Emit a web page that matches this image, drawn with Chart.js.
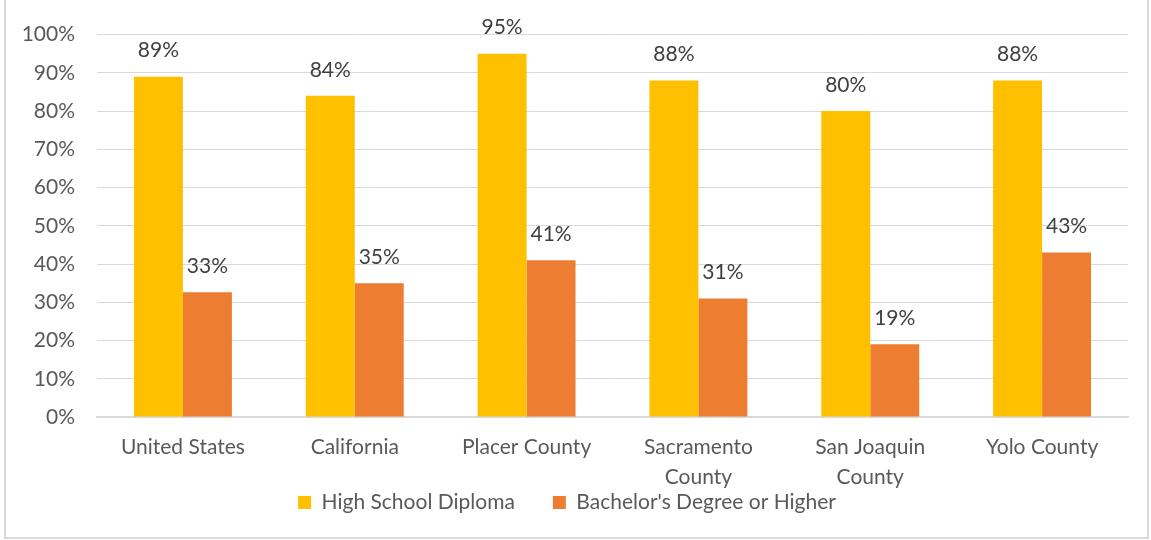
<!DOCTYPE html>
<html>
<head>
  <script src="https://cdn.jsdelivr.net/npm/chart.js"></script>
  <style>
    body { margin: 0; background: #fff; font-family: Lato, sans-serif; }
    .frame { position: absolute; left: 4px; top: -2px; width: 1141px; height: 537px; border: 2px solid #d9d9d9; }
    canvas { display: block; }
  </style>
</head>
<body>
  <div class="frame"><canvas id="eduChart" width="1141" height="537"></canvas></div>
  <script>
    // categories and series
    const areas = ['United States', 'California', 'Placer County', ['Sacramento', 'County'], ['San Joaquin', 'County'], 'Yolo County'];
    const highSchool = [89, 84, 95, 88, 80, 88];
    const bachelors = [32.6, 35, 41, 31, 19, 43];
    const yTicks = [0, 10, 20, 30, 40, 50, 60, 70, 80, 90, 100];

    const FONT = 'Lato, sans-serif';

    // labels drawn above each bar
    const barLabels = {
      id: 'barLabels',
      afterDatasetsDraw(chart) {
        const ctx = chart.ctx;
        ctx.save();
        ctx.font = '21px ' + FONT;
        ctx.fillStyle = '#404040';
        ctx.textAlign = 'center';
        ctx.textBaseline = 'middle';
        chart.data.datasets.forEach((ds, i) => {
          chart.getDatasetMeta(i).data.forEach((bar, j) => {
            ctx.fillText(Math.round(ds.data[j]) + '%', bar.x, bar.y - 26);
          });
        });
        ctx.restore();
      }
    };

    // legend sits tight under the two-line axis labels
    const legendLift = {
      id: 'legendLift',
      afterLayout(chart) {
        const lg = chart.legend;
        lg.top -= 36;
        lg.bottom -= 36;
      }
    };

    new Chart(document.getElementById('eduChart'), {
      type: 'bar',
      data: {
        labels: areas,
        datasets: [
          { label: 'High School Diploma', data: highSchool, backgroundColor: '#FFC000' },
          { label: "Bachelor's Degree or Higher", data: bachelors, backgroundColor: '#ED7D31' }
        ]
      },
      options: {
        responsive: false,
        animation: false,
        categoryPercentage: 0.57,
        barPercentage: 1,
        layout: { padding: { top: 31, right: 19, bottom: -22, left: 0 } },
        scales: {
          y: {
            min: 0, max: 100,
            afterBuildTicks(axis) { axis.ticks = yTicks.map(v => ({ value: v })); },
            afterFit(axis) { axis.width = 91; },
            ticks: {
              padding: 22,
              color: '#595959',
              font: { family: FONT, size: 21 },
              callback: v => v + '%'
            },
            grid: { color: '#d9d9d9', lineWidth: 1, drawTicks: false },
            border: { display: false }
          },
          x: {
            afterFit(axis) { axis.height = 73; },
            ticks: {
              padding: 16,
              color: '#595959',
              font: { family: FONT, size: 21, lineHeight: 1.4 },
              maxRotation: 0
            },
            grid: { display: false, drawTicks: false },
            border: { color: '#d9d9d9', width: 2 }
          }
        },
        plugins: {
          legend: {
            position: 'bottom',
            labels: {
              boxWidth: 13, boxHeight: 13, padding: 38,
              color: '#595959',
              font: { family: FONT, size: 21 }
            }
          },
          tooltip: { enabled: false }
        }
      },
      plugins: [barLabels, legendLift]
    });
  </script>
</body>
</html>
